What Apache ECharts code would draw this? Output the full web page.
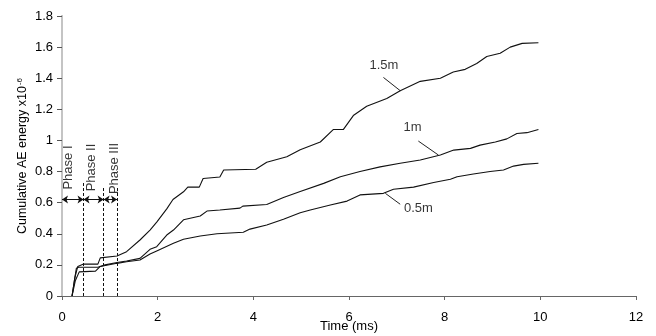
<!DOCTYPE html>
<html>
<head>
<meta charset="utf-8">
<script src="https://cdn.jsdelivr.net/npm/echarts@6/dist/echarts.min.js"></script>
<style>
  html, body { margin: 0; padding: 0; background: #fff; }
  #chart { width: 656px; height: 336px; }
</style>
</head>
<body>
<div id="chart"></div>
<script>
// Cumulative AE energy (x10^-6) against time (ms) at three distances
var series15m = [
  [0.21, 0], [0.27, 0.12], [0.33, 0.19], [0.45, 0.205], [0.75, 0.205], [0.8, 0.245],
  [1.15, 0.257], [1.35, 0.285], [1.63, 0.36], [1.84, 0.424], [1.98, 0.475], [2.19, 0.56],
  [2.32, 0.62], [2.54, 0.67], [2.63, 0.70], [2.87, 0.70], [2.95, 0.755], [3.3, 0.765],
  [3.38, 0.81], [4.05, 0.815], [4.28, 0.86], [4.7, 0.895], [4.98, 0.94], [5.4, 0.99],
  [5.67, 1.07], [5.88, 1.07], [6.09, 1.16], [6.37, 1.22], [6.79, 1.27], [7.07, 1.32],
  [7.49, 1.38], [7.91, 1.40], [8.18, 1.44], [8.43, 1.457], [8.67, 1.495], [8.88, 1.54],
  [9.16, 1.56], [9.37, 1.60], [9.62, 1.624], [9.96, 1.628]
];
var series1m = [
  [0.21, 0], [0.26, 0.1], [0.30, 0.178], [0.35, 0.185], [0.75, 0.185], [0.9, 0.2],
  [1.15, 0.215], [1.35, 0.225], [1.63, 0.242], [1.84, 0.3], [1.98, 0.317], [2.19, 0.392],
  [2.33, 0.424], [2.54, 0.49], [2.89, 0.514], [3.03, 0.546], [3.3, 0.553], [3.72, 0.565],
  [3.78, 0.578], [4.28, 0.588], [4.63, 0.633], [4.98, 0.672], [5.47, 0.724], [5.82, 0.767],
  [6.23, 0.80], [6.65, 0.83], [7.07, 0.853], [7.49, 0.874], [7.91, 0.906], [8.19, 0.938],
  [8.54, 0.949], [8.74, 0.97], [9.06, 0.99], [9.3, 1.01], [9.51, 1.045], [9.72, 1.05],
  [9.96, 1.07]
];
var series05m = [
  [0.21, 0], [0.28, 0.1], [0.36, 0.155], [0.7, 0.16], [0.8, 0.19], [1.15, 0.21],
  [1.35, 0.22], [1.63, 0.231], [1.84, 0.27], [1.98, 0.29], [2.33, 0.339], [2.54, 0.365],
  [2.89, 0.386], [3.24, 0.40], [3.79, 0.41], [3.93, 0.43], [4.28, 0.456], [4.63, 0.493],
  [4.98, 0.535], [5.19, 0.553], [5.61, 0.585], [5.96, 0.61], [6.23, 0.65], [6.72, 0.66],
  [6.93, 0.686], [7.35, 0.70], [7.77, 0.73], [8.12, 0.75], [8.26, 0.767], [8.6, 0.784],
  [8.95, 0.80], [9.23, 0.81], [9.44, 0.835], [9.65, 0.846], [9.96, 0.853]
];

// Phase boundaries (ms) and arrow height
var phaseBounds = [0, 0.45, 0.87, 1.15];
var phaseTops = [0.73, 0.70, 0.70];
var arrowLevel = 0.62;
var phaseNames = ['Phase I', 'Phase II', 'Phase III'];
var phaseLabelPos = [[0.125, 0.826], [0.607, 0.826], [1.09, 0.82]];

// Curve labels: text anchor and leader line [from, to]
var curveLabels = [
  { text: '1.5m', at: [6.73, 1.485], leader: [[6.72, 1.405], [7.07, 1.32]] },
  { text: '1m',   at: [7.33, 1.083], leader: [[7.45, 0.996], [7.87, 0.906]] },
  { text: '0.5m', at: [7.45, 0.566], leader: [[6.76, 0.66], [7.07, 0.59]] }
];

var xTicks = { min: 0, max: 12, interval: 2 };
var yTicks = { min: 0, max: 1.8, interval: 0.2 };

var FONT = 'Liberation Sans, Arial, sans-serif';
var FS = 13;
var lineStyle = { color: '#111', width: 1.1 };

function curve(data) {
  return { type: 'line', data: data, symbol: 'none', lineStyle: lineStyle, z: 3, silent: true };
}

var arrowLines = [];
for (var i = 0; i < 3; i++) {
  arrowLines.push([{ coord: [phaseBounds[i], arrowLevel] }, { coord: [phaseBounds[i + 1], arrowLevel] }]);
}
var dashLines = [];
for (var j = 1; j < 4; j++) {
  dashLines.push([{ coord: [phaseBounds[j], 0] }, { coord: [phaseBounds[j], phaseTops[j - 1]] }]);
}
var leaderLines = curveLabels.map(function (c) {
  return [{ coord: c.leader[0] }, { coord: c.leader[1] }];
});

var chart = echarts.init(document.getElementById('chart'));
chart.setOption({
  animation: false,
  backgroundColor: '#fff',
  textStyle: { fontFamily: FONT },
  grid: { left: 62, right: 20, top: 16, bottom: 40, show: false, containLabel: false, outerBoundsMode: 'none' },
  xAxis: [{
    type: 'value', min: xTicks.min, max: xTicks.max, interval: xTicks.interval,
    name: 'Time (ms)', nameLocation: 'middle', nameGap: 24, nameMoveOverlap: false,
    nameTextStyle: { color: '#000', fontSize: FS, fontFamily: FONT },
    axisLine: { show: true, onZero: false, lineStyle: { color: '#666', width: 1 } },
    axisTick: { show: true, length: 4, lineStyle: { color: '#666' } },
    axisLabel: { color: '#000', fontSize: FS, margin: 15, fontFamily: FONT },
    splitLine: { show: false }
  }, {
    type: 'value', position: 'top', min: xTicks.min, max: xTicks.max,
    axisLine: { show: true, lineStyle: { color: '#666', width: 1 } },
    axisTick: { show: false }, axisLabel: { show: false }, splitLine: { show: false }
  }],
  yAxis: [{
    type: 'value', min: yTicks.min, max: yTicks.max, interval: yTicks.interval,
    name: 'Cumulative AE energy x10{sup|-6}', nameLocation: 'middle', nameGap: 32, nameMoveOverlap: false,
    nameTextStyle: {
      color: '#000', fontSize: 12.5, fontFamily: FONT,
      rich: { sup: { fontSize: 8, verticalAlign: 'top', padding: [0, 0, 6, 1], color: '#000', fontFamily: FONT } }
    },
    axisLine: { show: true, lineStyle: { color: '#c4c4c4', width: 2 } },
    axisTick: { show: true, length: 5, lineStyle: { color: '#555' } },
    axisLabel: { color: '#000', fontSize: FS, margin: 9, fontFamily: FONT },
    splitLine: { show: false }
  }, {
    type: 'value', position: 'right', min: yTicks.min, max: yTicks.max,
    axisLine: { show: true, lineStyle: { color: '#c4c4c4', width: 2 } },
    axisTick: { show: false }, axisLabel: { show: false }, splitLine: { show: false }
  }],
  series: [
    Object.assign(curve(series15m), { name: '1.5m' }),
    Object.assign(curve(series1m), { name: '1m' }),
    Object.assign(curve(series05m), { name: '0.5m' }),
    {
      // double-headed arrows spanning each phase
      type: 'line', data: [], silent: true,
      markLine: {
        silent: true, animation: false, symbol: ['arrow', 'arrow'], symbolSize: [6, 6],
        label: { show: false }, lineStyle: { color: '#111', type: 'solid', width: 1 },
        data: arrowLines
      }
    },
    {
      // dashed phase boundaries
      type: 'line', data: [], silent: true,
      markLine: {
        silent: true, animation: false, symbol: 'none',
        label: { show: false }, lineStyle: { color: '#111', type: [3, 2], width: 1 },
        data: dashLines
      }
    },
    {
      // leader lines from curve names to their curves
      type: 'line', data: [], silent: true,
      markLine: {
        silent: true, animation: false, symbol: 'none',
        label: { show: false }, lineStyle: { color: '#222', type: 'solid', width: 1 },
        data: leaderLines
      }
    },
    {
      type: 'scatter', symbolSize: 0, silent: true, z: 5,
      data: curveLabels.map(function (c) { return { value: c.at, name: c.text }; }),
      label: {
        show: true, position: 'inside', formatter: '{b}',
        color: '#000', fontSize: FS, fontFamily: FONT
      }
    },
    {
      type: 'scatter', symbolSize: 0, silent: true, z: 5,
      data: phaseNames.map(function (n, k) { return { value: phaseLabelPos[k], name: n }; }),
      label: {
        show: true, position: 'inside', formatter: '{b}', rotate: 90,
        color: '#000', fontSize: FS, fontFamily: FONT
      }
    }
  ]
});
</script>
</body>
</html>
